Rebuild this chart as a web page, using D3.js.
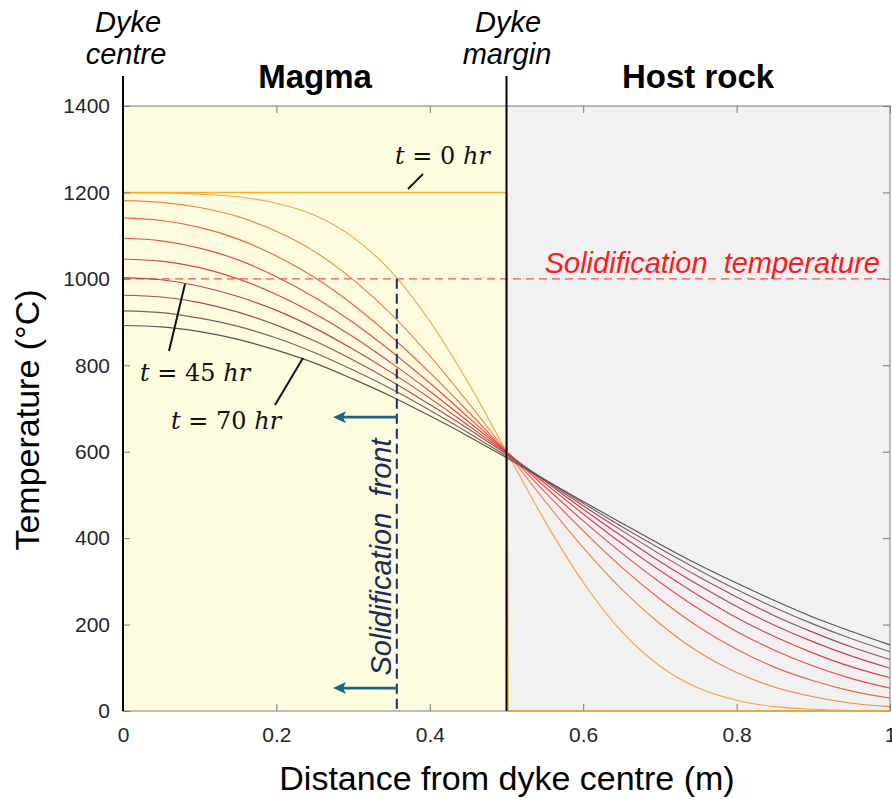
<!DOCTYPE html>
<html>
<head>
<meta charset="utf-8">
<script src="https://cdn.jsdelivr.net/npm/d3@7/dist/d3.min.js"></script>
<style>
  body { margin: 0; background: #ffffff; }
  svg { display: block; }
</style>
</head>
<body>
<svg id="chart" width="892" height="803"></svg>
<script>
// ---- Data -------------------------------------------------------------
// Distance from dyke centre (m) at which each cooling profile is sampled
const distance = [0, 0.05, 0.1, 0.15, 0.2, 0.25, 0.3, 0.35, 0.4, 0.45, 0.5,
                  0.55, 0.6, 0.65, 0.7, 0.75, 0.8, 0.85, 0.9, 0.95, 1.0];

// Initial (t = 0 hr) step profile: magma at 1200 °C, host rock at 0 °C
const distanceInitial = [0, 0.5, 0.502, 1.0];
const tempInitial = [1200, 1200, 0, 0];

// Temperature profiles (°C) at successive times, earliest first
const temp1 = [1199, 1199, 1196, 1190, 1175, 1147, 1096, 1016, 902, 760, 600,
               440, 298, 184, 104, 53, 25, 10, 4, 1, 0];
const temp2 = [1181, 1177, 1165, 1144, 1110, 1063, 998, 918, 822, 714, 600,
               486, 378, 282, 202, 137, 89, 55, 33, 18, 10];
const temp3 = [1141, 1135, 1119, 1092, 1053, 1003, 940, 866, 783, 693, 600,
               507, 417, 333, 259, 195, 143, 101, 70, 46, 30];
const temp4 = [1094, 1088, 1071, 1044, 1005, 957, 899, 832, 759, 680, 600,
               519, 440, 366, 298, 237, 184, 140, 104, 75, 53];
const temp5 = [1046, 1041, 1026, 1000, 964, 919, 866, 805, 740, 670, 599,
               527, 456, 388, 325, 268, 216, 172, 134, 102, 77];
const temp6 = [1003, 998, 983, 959, 927, 886, 837, 783, 724, 661, 597,
               532, 467, 405, 346, 292, 242, 198, 160, 127, 99];
const temp7 = [962, 958, 945, 923, 893, 856, 812, 763, 709, 653, 594,
               534, 475, 418, 363, 311, 264, 220, 182, 148, 119];
const temp8 = [926, 922, 909, 890, 863, 829, 789, 745, 696, 644, 590,
               536, 481, 427, 376, 327, 281, 239, 201, 167, 137];
const temp9 = [892, 889, 878, 860, 835, 805, 768, 728, 683, 636, 586,
               535, 485, 435, 386, 339, 296, 255, 217, 184, 153];

const laterProfiles = [temp1, temp2, temp3, temp4, temp5, temp6, temp7, temp8, temp9];

// Solidification temperature and position of the solidification front
const solidificationTemp = 1000;
const frontDistance = 0.357;
const dykeMargin = 0.5;
// Temperature levels at which the front's direction arrows are drawn
const arrowLevels = [680, 53];

// Axis ticks
const xTicks = [0, 0.2, 0.4, 0.6, 0.8, 1];
const xTickLabels = ["0", "0.2", "0.4", "0.6", "0.8", "1"];
const yTicks = [0, 200, 400, 600, 800, 1000, 1200, 1400];

// ---- Styles -----------------------------------------------------------
const initialColor = "#F7AE2E";
const profileColors = ["#F6A24A", "#F5824F", "#F2604A", "#EE4A49", "#E0404A",
                       "#C8404F", "#A24A5A", "#7E5F62", "#555555"];
const sansFont = "'Liberation Sans', Arial, sans-serif";
const mathFont = "'DejaVu Serif', serif";

// ---- Layout -----------------------------------------------------------
const svg = d3.select("#chart");
const plot = { left: 123, right: 890, top: 106, bottom: 711 };

const x = d3.scaleLinear().domain([0, 1]).range([plot.left, plot.right]);
const y = d3.scaleLinear().domain([0, 1400]).range([plot.bottom, plot.top]);

// Background regions: magma (yellow) and host rock (grey)
svg.append("rect")
  .attr("x", x(0)).attr("y", y(1400))
  .attr("width", x(dykeMargin) - x(0)).attr("height", y(0) - y(1400))
  .attr("fill", "#FEFCDE");
svg.append("rect")
  .attr("x", x(dykeMargin)).attr("y", y(1400))
  .attr("width", x(1) - x(dykeMargin)).attr("height", y(0) - y(1400))
  .attr("fill", "#F1F1F1");

// Solidification temperature line
svg.append("line")
  .attr("x1", x(0)).attr("x2", x(1))
  .attr("y1", y(solidificationTemp)).attr("y2", y(solidificationTemp))
  .attr("stroke", "#FF4D4D").attr("stroke-width", 1.1)
  .attr("stroke-dasharray", "8,5");

// Temperature profiles
const line = d3.line()
  .x(d => x(d[0]))
  .y(d => y(d[1]))
  .curve(d3.curveMonotoneX);

const profileGroup = svg.append("g").attr("fill", "none").attr("stroke-width", 1.15);

laterProfiles.forEach((temps, i) => {
  profileGroup.append("path")
    .datum(distance.map((d, j) => [d, temps[j]]))
    .attr("stroke", profileColors[i])
    .attr("d", line);
});

profileGroup.append("path")
  .datum(distanceInitial.map((d, j) => [d, tempInitial[j]]))
  .attr("stroke", initialColor)
  .attr("stroke-width", 1.4)
  .attr("d", d3.line().x(d => x(d[0])).y(d => y(d[1])));

// ---- Axes -------------------------------------------------------------
const axisColor = "#7A7A7A";
const labelColor = "#262626";

function styleAxis(g, showLabels) {
  g.select(".domain").remove();
  g.selectAll(".tick line").attr("stroke", axisColor).attr("stroke-width", 1);
  g.selectAll(".tick text")
    .attr("fill", labelColor)
    .style("font-family", sansFont)
    .style("font-size", "21px");
  if (!showLabels) g.selectAll(".tick text").remove();
}

svg.append("g")
  .attr("transform", `translate(0,${plot.bottom})`)
  .call(d3.axisBottom(x).tickValues(xTicks).tickFormat((d, i) => xTickLabels[i])
    .tickSizeInner(-7).tickSizeOuter(0).tickPadding(16))
  .call(g => styleAxis(g, true));

svg.append("g")
  .attr("transform", `translate(0,${plot.top})`)
  .call(d3.axisTop(x).tickValues(xTicks).tickSizeInner(-7).tickSizeOuter(0))
  .call(g => styleAxis(g, false));

svg.append("g")
  .attr("transform", `translate(${plot.left},0)`)
  .call(d3.axisLeft(y).tickValues(yTicks).tickFormat(d3.format("d"))
    .tickSizeInner(-7).tickSizeOuter(0).tickPadding(13))
  .call(g => styleAxis(g, true));

svg.append("g")
  .attr("transform", `translate(${plot.right},0)`)
  .call(d3.axisRight(y).tickValues(yTicks).tickSizeInner(-7).tickSizeOuter(0))
  .call(g => styleAxis(g, false));

// Axis box
svg.append("rect")
  .attr("x", plot.left).attr("y", plot.top)
  .attr("width", plot.right - plot.left).attr("height", plot.bottom - plot.top)
  .attr("fill", "none").attr("stroke", axisColor).attr("stroke-width", 1);

// Redraw the host-rock initial profile along the bottom edge over the box
svg.append("line")
  .attr("x1", x(distanceInitial[2])).attr("x2", x(1))
  .attr("y1", y(0)).attr("y2", y(0))
  .attr("stroke", initialColor).attr("stroke-width", 1.6);

// Dyke centre and dyke margin markers
[0, dykeMargin].forEach(d => {
  svg.append("line")
    .attr("x1", x(d)).attr("x2", x(d))
    .attr("y1", 76).attr("y2", y(0))
    .attr("stroke", "#000").attr("stroke-width", 2);
});

// ---- Solidification front ---------------------------------------------
const frontColor = "#1B2B5E";
const arrowColor = "#1E6385";

svg.append("line")
  .attr("x1", x(frontDistance)).attr("x2", x(frontDistance))
  .attr("y1", y(solidificationTemp)).attr("y2", y(0))
  .attr("stroke", frontColor).attr("stroke-width", 2)
  .attr("stroke-dasharray", "10,5");

// Arrows pointing from the front towards the dyke centre
arrowLevels.forEach(tempLevel => {
  const yy = y(tempLevel);
  const xStart = x(frontDistance);
  const xTip = 333;
  svg.append("line")
    .attr("x1", xStart).attr("x2", xTip + 10)
    .attr("y1", yy).attr("y2", yy)
    .attr("stroke", arrowColor).attr("stroke-width", 2.6);
  svg.append("path")
    .attr("d", `M${xTip},${yy} L${xTip + 13},${yy - 6} L${xTip + 10},${yy} L${xTip + 13},${yy + 6} Z`)
    .attr("fill", arrowColor);
});

svg.append("text")
  .attr("transform", `translate(391,557) rotate(-90)`)
  .attr("text-anchor", "middle")
  .attr("fill", frontColor)
  .style("font-family", sansFont).style("font-style", "italic").style("font-size", "29px")
  .style("white-space", "pre")
  .text("Solidification  front");

svg.append("text")
  .attr("x", 880).attr("y", 273)
  .attr("text-anchor", "end")
  .attr("fill", "#FF1A1A")
  .style("font-family", sansFont).style("font-style", "italic").style("font-size", "29px")
  .style("white-space", "pre")
  .text("Solidification  temperature");

// ---- Time labels --------------------------------------------------------
function timeLabel(xPos, yPos, hours) {
  const t = svg.append("text")
    .attr("x", xPos).attr("y", yPos)
    .attr("fill", "#111")
    .style("font-family", mathFont).style("font-size", "24px")
    .style("white-space", "pre");
  t.append("tspan").style("font-style", "italic").text("t");
  t.append("tspan").text(` = ${hours} `);
  t.append("tspan").style("font-style", "italic").text("hr");
}
timeLabel(395, 164, 0);
timeLabel(140, 381, 45);
timeLabel(171, 429, 70);

const leaders = [
  [[408, 189], [423, 174]],
  [[185, 284], [169, 351]],
  [[303, 358], [275, 405]]
];
leaders.forEach(seg => {
  svg.append("line")
    .attr("x1", seg[0][0]).attr("y1", seg[0][1])
    .attr("x2", seg[1][0]).attr("y2", seg[1][1])
    .attr("stroke", "#111").attr("stroke-width", 2);
});

// ---- Titles and axis labels ---------------------------------------------
function label(text, xPos, yPos, opts) {
  return svg.append("text")
    .attr("x", xPos).attr("y", yPos)
    .attr("text-anchor", "middle")
    .attr("fill", "#000")
    .style("font-family", sansFont)
    .style("font-size", opts.size + "px")
    .style("font-style", opts.italic ? "italic" : "normal")
    .style("font-weight", opts.bold ? "bold" : "normal")
    .text(text);
}

label("Dyke", 128, 32, { size: 29, italic: true });
label("centre", 126, 64, { size: 29, italic: true });
label("Dyke", 508, 32, { size: 29, italic: true });
label("margin", 507, 64, { size: 29, italic: true });
label("Magma", 315, 88, { size: 33, bold: true });
label("Host rock", 698, 88, { size: 33, bold: true });

label("Distance from dyke centre (m)", 507, 790, { size: 34 });
svg.append("text")
  .attr("transform", "translate(39,420) rotate(-90)")
  .attr("text-anchor", "middle")
  .attr("fill", "#000")
  .style("font-family", sansFont).style("font-size", "34px")
  .text("Temperature (°C)");
</script>
</body>
</html>
